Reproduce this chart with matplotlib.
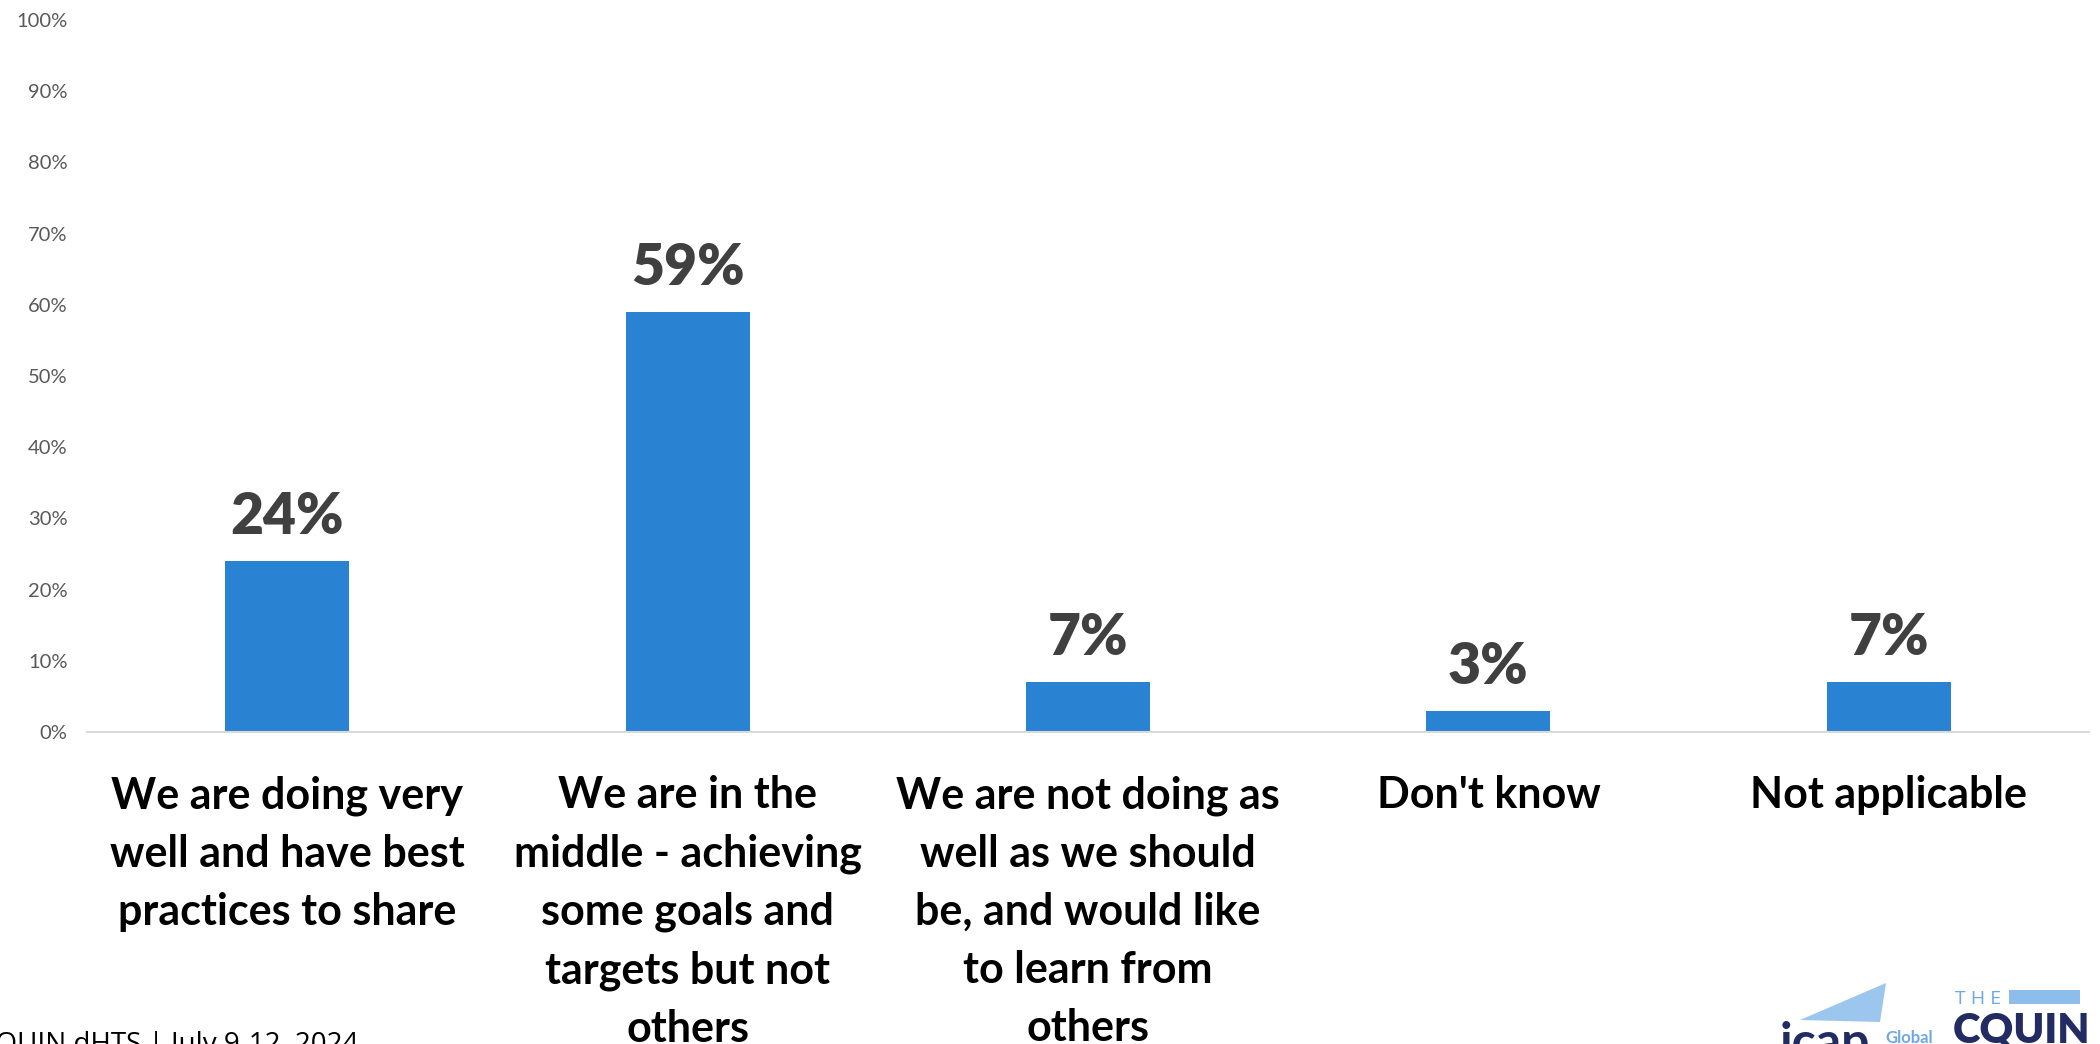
import matplotlib
matplotlib.use("Agg")
import matplotlib.pyplot as plt
from matplotlib.patches import Polygon, Rectangle
from matplotlib.ticker import PercentFormatter, MultipleLocator
import numpy as np

# Survey responses and their shares (%)
categories = [
    "We are doing very\nwell and have best\npractices to share",
    "We are in the\nmiddle - achieving\nsome goals and\ntargets but not\nothers",
    "We are not doing as\nwell as we should\nbe, and would like\nto learn from\nothers",
    "Don't know",
    "Not applicable",
]
shares = [24, 59, 7, 3, 7]
footer_text = "CQUIN dHTS | July 9-12, 2024"

BAR_COLOR = "#2A83D2"
LABEL_COLOR = "#404040"
TICK_COLOR = "#595959"
NAVY = "#232B63"
LIGHT_BLUE = "#6FA9E3"

plt.rcParams["font.family"] = ["Lato", "DejaVu Sans"]

fig = plt.figure(figsize=(21, 10.44), dpi=100)
ax = fig.add_axes([87 / 2100, 1 - 732 / 1044, (2089 - 87) / 2100, (732 - 20) / 1044])

x = np.arange(len(categories))
bars = ax.bar(x, shares, width=0.31, color=BAR_COLOR, zorder=2)

for rect, v in zip(bars, shares):
    ax.annotate(f"{v}%", (rect.get_x() + rect.get_width() / 2, v),
                xytext=(0, 13), textcoords="offset points",
                ha="center", va="bottom", fontsize=41, fontweight="heavy",
                color=LABEL_COLOR)

ax.set_xlim(-0.5, len(categories) - 0.5)
ax.set_ylim(0, 100)
ax.yaxis.set_major_locator(MultipleLocator(10))
ax.yaxis.set_major_formatter(PercentFormatter(decimals=0))
ax.tick_params(axis="y", length=0, pad=14, labelsize=14.5, labelcolor=TICK_COLOR)
ax.tick_params(axis="x", length=0, pad=31)
ax.set_xticks(x)
ax.set_xticklabels(categories, fontsize=31, fontweight="bold", color="black",
                   linespacing=1.55, va="top")

for side in ("left", "right", "top"):
    ax.spines[side].set_visible(False)
ax.spines["bottom"].set_color("#D9D9D9")
ax.spines["bottom"].set_linewidth(1.5)

# Footer
fig.text(-22 / 2100, 1 - 1052 / 1044, footer_text, fontsize=20, color="black",
         ha="left", va="baseline", family=["Open Sans", "DejaVu Sans"])

# Logos in the bottom-right corner
W, H = 2100, 1044
def fx(px):
    return px / W
def fy(py):
    return 1 - py / H

tri = Polygon([(fx(1800), fy(1020)), (fx(1886), fy(983)), (fx(1880), fy(1022))],
              closed=True, transform=fig.transFigure, facecolor="#9CC6EE",
              edgecolor="none")
fig.patches.append(tri)
fig.text(fx(1780), fy(1058), "icap", fontsize=36, fontweight="bold", color=NAVY,
         ha="left", va="baseline")
fig.text(fx(1885), fy(1043), "Global", fontsize=12, fontweight="bold",
         color=LIGHT_BLUE, ha="left", va="baseline")

fig.text(fx(1955), fy(1004), "T H E", fontsize=14, color=LIGHT_BLUE,
         ha="left", va="baseline", family=["Open Sans", "DejaVu Sans"])
bar_logo = Rectangle((fx(2009), fy(1004)), fx(2080) - fx(2009), (1004 - 990) / H,
                     transform=fig.transFigure, facecolor="#8DBDEB",
                     edgecolor="none")
fig.patches.append(bar_logo)
fig.text(fx(1953), fy(1042), "CQUIN", fontsize=30, fontweight="heavy", color=NAVY,
         ha="left", va="baseline")

fig.savefig("out.png", dpi=100, facecolor="white")
